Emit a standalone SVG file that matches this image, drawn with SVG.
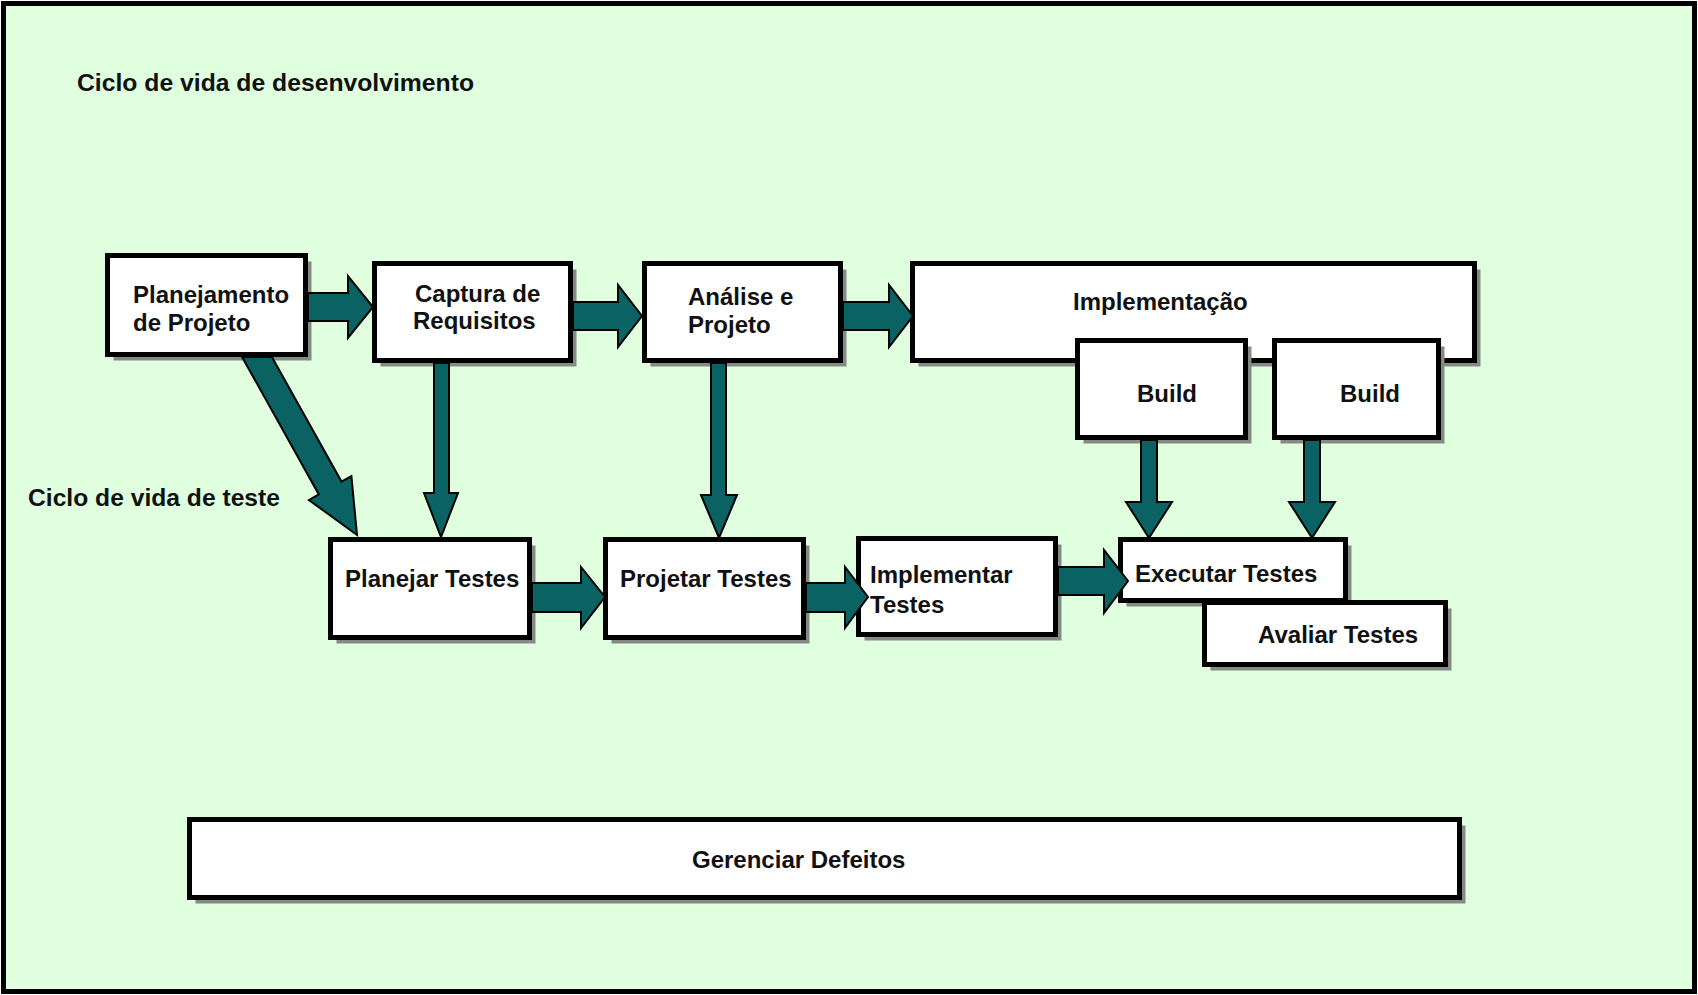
<svg xmlns="http://www.w3.org/2000/svg" width="1698" height="995" viewBox="0 0 1698 995">
<style>
.box{fill:#ffffff;stroke:#000000;stroke-width:5}
.sh{fill:#858a85}
.t{font-family:"Liberation Sans",Arial,sans-serif;font-weight:bold;font-size:24px;fill:#111111}
.arr{fill:#0b6262;stroke:#000000;stroke-width:2;stroke-linejoin:miter}
</style>
<rect x="3.5" y="3.5" width="1691" height="988" fill="#dfffdf" stroke="#000000" stroke-width="5"/>
<text class="t" x="77" y="91" textLength="397" lengthAdjust="spacingAndGlyphs">Ciclo de vida de desenvolvimento</text>
<text class="t" x="28" y="506" textLength="252" lengthAdjust="spacingAndGlyphs">Ciclo de vida de teste</text>

<g id="node-planejamento">
<rect class="sh" x="113.5" y="261.5" width="198" height="99"/>
<rect class="box" x="107.5" y="255.5" width="198" height="99"/>
<text class="t" x="133" y="303">Planejamento</text>
<text class="t" x="133" y="331">de Projeto</text>
</g>
<g id="node-captura">
<rect class="sh" x="380.5" y="269.5" width="196" height="97"/>
<rect class="box" x="374.5" y="263.5" width="196" height="97"/>
<text class="t" x="415" y="302">Captura de</text>
<text class="t" x="413" y="329">Requisitos</text>
</g>
<g id="node-analise">
<rect class="sh" x="650.5" y="269.5" width="196" height="97"/>
<rect class="box" x="644.5" y="263.5" width="196" height="97"/>
<text class="t" x="688" y="305">Análise e</text>
<text class="t" x="688" y="333">Projeto</text>
</g>
<g id="node-implementacao">
<rect class="sh" x="918.5" y="269.5" width="562" height="97"/>
<rect class="box" x="912.5" y="263.5" width="562" height="97"/>
<text class="t" x="1073" y="310">Implementação</text>
</g>
<g id="node-build1">
<rect class="sh" x="1083.5" y="346.5" width="168" height="97"/>
<rect class="box" x="1077.5" y="340.5" width="168" height="97"/>
<text class="t" x="1137" y="402">Build</text>
</g>
<g id="node-build2">
<rect class="sh" x="1280.5" y="346.5" width="164" height="97"/>
<rect class="box" x="1274.5" y="340.5" width="164" height="97"/>
<text class="t" x="1340" y="402">Build</text>
</g>
<g id="node-planejar">
<rect class="sh" x="336.5" y="545.5" width="199" height="98"/>
<rect class="box" x="330.5" y="539.5" width="199" height="98"/>
<text class="t" x="345" y="587">Planejar Testes</text>
</g>
<g id="node-projetar">
<rect class="sh" x="611.5" y="545.5" width="198" height="98"/>
<rect class="box" x="605.5" y="539.5" width="198" height="98"/>
<text class="t" x="620" y="587">Projetar Testes</text>
</g>
<g id="node-implementar">
<rect class="sh" x="864.5" y="544.5" width="197" height="96"/>
<rect class="box" x="858.5" y="538.5" width="197" height="96"/>
<text class="t" x="870" y="583">Implementar</text>
<text class="t" x="870" y="613">Testes</text>
</g>
<g id="node-executar">
<rect class="sh" x="1126.5" y="545.5" width="225" height="61"/>
<rect class="box" x="1120.5" y="539.5" width="225" height="61"/>
<text class="t" x="1135" y="582">Executar Testes</text>
</g>
<g id="node-avaliar">
<rect class="sh" x="1210.5" y="608.5" width="241" height="62"/>
<rect class="box" x="1204.5" y="602.5" width="241" height="62"/>
<text class="t" x="1258" y="643">Avaliar Testes</text>
</g>
<g id="node-gerenciar">
<rect class="sh" x="195.5" y="825.5" width="1270" height="78"/>
<rect class="box" x="189.5" y="819.5" width="1270" height="78"/>
<text class="t" x="692" y="868">Gerenciar Defeitos</text>
</g>

<g id="connectors">
<polygon class="arr" points="308,293 348,293 348,276 373,307 348,338 348,321 308,321"/>
<polygon class="arr" points="573,302 618,302 618,285 642,316 618,347 618,330 573,330"/>
<polygon class="arr" points="843,302 889,302 889,285 913,316 889,347 889,330 843,330"/>
<polygon class="arr" points="532,583 581,583 581,567 605,597 581,628 581,612 532,612"/>
<polygon class="arr" points="806,583 845,583 845,567 868,597 845,628 845,612 806,612"/>
<polygon class="arr" points="1058,567 1104,567 1104,550 1128,581 1104,613 1104,595 1058,595"/>
<polygon class="arr" points="434,363 449,363 449,493 458,493 441,537 424,493 434,493"/>
<polygon class="arr" points="711,363 726,363 726,495 737,495 719,538 701,495 711,495"/>
<polygon class="arr" points="1141,440 1157,440 1157,502 1172,502 1149,538 1126,502 1141,502"/>
<polygon class="arr" points="1304,440 1320,440 1320,502 1335,502 1312,538 1289,502 1304,502"/>
<polygon class="arr" points="242.1,357 271.9,357 341.5,481.6 351.4,476.1 357,535 308.9,500 318.8,494.4"/>
</g>
</svg>
